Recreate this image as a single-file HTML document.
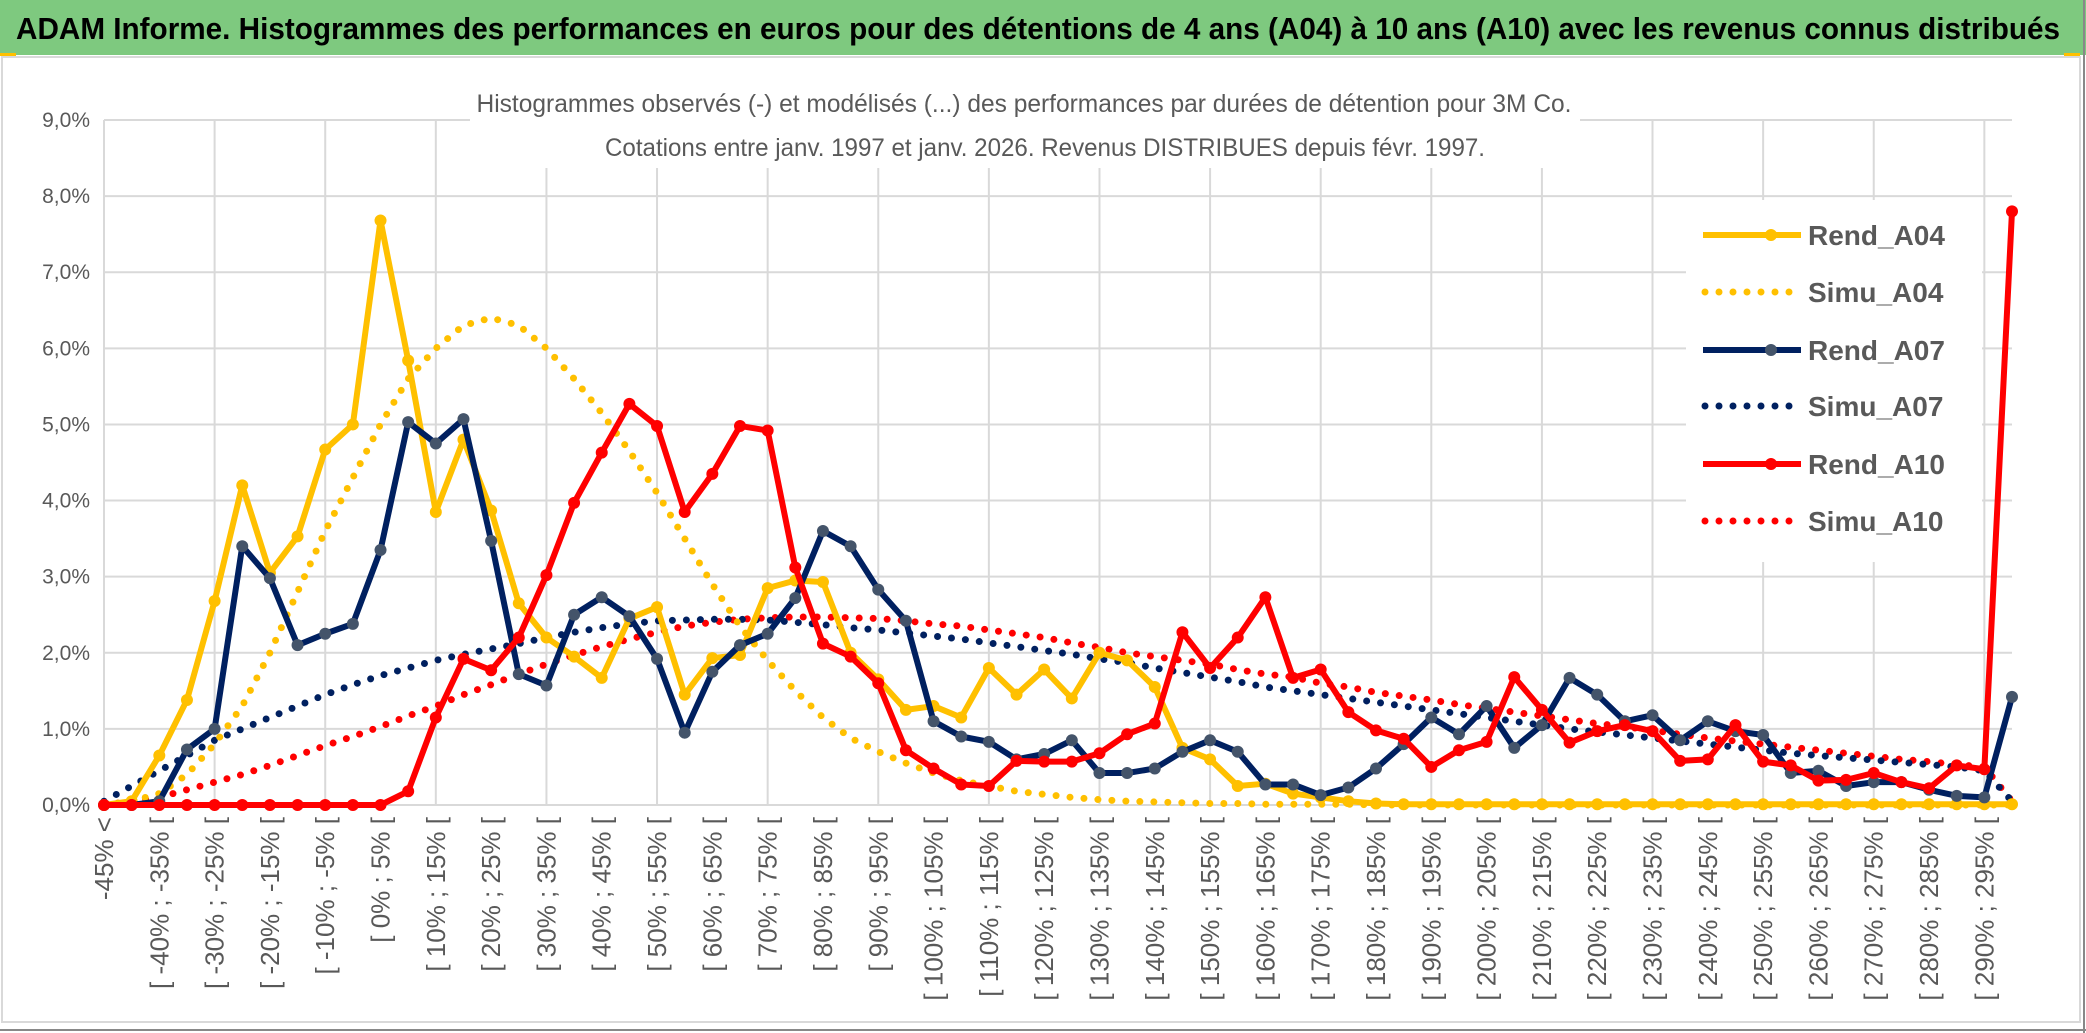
<!DOCTYPE html>
<html><head><meta charset="utf-8"><style>
html,body{margin:0;padding:0;background:#fff;}
svg{display:block;font-family:"Liberation Sans",sans-serif;}
</style></head><body>
<svg id="chart" width="2086" height="1033" viewBox="0 0 2086 1033" xmlns="http://www.w3.org/2000/svg">
<rect x="0" y="0" width="2086" height="1033" fill="#fff"/>
<rect x="0" y="0" width="2086" height="55" fill="#7ec97f"/>
<text x="16" y="39" font-size="31" font-weight="bold" fill="#000" textLength="2044" lengthAdjust="spacingAndGlyphs">ADAM Informe. Histogrammes des performances en euros pour des détentions de 4 ans (A04) à 10 ans (A10) avec les revenus connus distribués</text>
<rect x="0" y="53" width="16" height="3" fill="#ffc000"/>
<rect x="2064" y="53" width="16" height="3" fill="#ffc000"/>
<rect x="2" y="57" width="2078" height="965" fill="none" stroke="#d9d9d9" stroke-width="2"/>
<line x1="0" y1="1030" x2="2086" y2="1030" stroke="#888" stroke-width="2"/>
<line x1="2084" y1="0" x2="2084" y2="1033" stroke="#888" stroke-width="2"/>
<g id="grid"></g>
<g id="yaxis"></g>
<g id="xaxis"></g>
<rect x="470" y="78" width="1110" height="90" fill="#fff"/>
<text x="1024" y="112" font-size="25" fill="#595959" text-anchor="middle" textLength="1095" lengthAdjust="spacingAndGlyphs">Histogrammes observés (-) et modélisés (...) des performances par durées de détention pour 3M Co.</text>
<text x="1045" y="156" font-size="25" fill="#595959" text-anchor="middle" textLength="880" lengthAdjust="spacingAndGlyphs">Cotations entre janv. 1997 et janv. 2026. Revenus DISTRIBUES depuis févr. 1997.</text>
<g id="series"></g>
<g id="legend"></g>
</svg>
<script>
const categories = (function(){ const c=["-45% <"]; for(let v=-45; v<300; v+=5){ c.push("[ "+v+"% ; "+(v+5)+"% ["); } return c; })();
const yTicks = [0,1,2,3,4,5,6,7,8,9];
const yTickLabels = ["0,0%","1,0%","2,0%","3,0%","4,0%","5,0%","6,0%","7,0%","8,0%","9,0%"];
const rendA04 = [0,0.05,0.65,1.38,2.68,4.2,3.05,3.53,4.67,5.0,7.68,5.84,3.85,4.8,3.87,2.65,2.2,1.95,1.67,2.45,2.6,1.45,1.93,1.97,2.85,2.95,2.93,2.0,1.65,1.25,1.3,1.15,1.8,1.45,1.78,1.4,2.0,1.9,1.55,0.75,0.6,0.25,0.28,0.15,0.1,0.05,0.02,0.01,0.01,0.01,0.01,0.01,0.01,0.01,0.01,0.01,0.01,0.01,0.01,0.01,0.01,0.01,0.01,0.01,0.01,0.01,0.01,0.01,0.01,0.01];
const simuA04 = [0,0.05,0.15,0.4,0.8,1.3,2.0,2.8,3.6,4.3,5.0,5.6,6.0,6.3,6.4,6.3,6.0,5.6,5.15,4.65,4.1,3.5,2.9,2.35,1.9,1.5,1.15,0.88,0.7,0.55,0.42,0.32,0.25,0.18,0.14,0.1,0.07,0.05,0.04,0.03,0.02,0.02,0.01,0.01,0.01,0.01,0,0,0,0,0,0,0,0,0,0,0,0,0,0,0,0,0,0,0,0,0,0,0,0];
const rendA07 = [0,0,0.05,0.73,1.0,3.4,2.98,2.1,2.25,2.38,3.35,5.03,4.75,5.07,3.47,1.72,1.57,2.5,2.73,2.48,1.92,0.95,1.75,2.1,2.25,2.72,3.6,3.4,2.83,2.42,1.1,0.9,0.83,0.6,0.67,0.85,0.42,0.42,0.48,0.7,0.85,0.7,0.27,0.27,0.13,0.23,0.48,0.8,1.15,0.93,1.3,0.75,1.05,1.67,1.45,1.1,1.18,0.85,1.1,0.97,0.92,0.42,0.45,0.25,0.3,0.3,0.2,0.12,0.1,1.42];
const simuA07 = [0.05,0.25,0.45,0.65,0.85,1.0,1.15,1.3,1.45,1.58,1.7,1.8,1.9,1.98,2.05,2.12,2.2,2.27,2.33,2.38,2.42,2.43,2.44,2.44,2.43,2.4,2.37,2.33,2.3,2.26,2.22,2.18,2.13,2.08,2.03,1.98,1.92,1.87,1.8,1.74,1.68,1.62,1.55,1.5,1.45,1.4,1.35,1.3,1.25,1.2,1.15,1.1,1.05,1.0,0.96,0.92,0.88,0.84,0.8,0.76,0.72,0.68,0.65,0.62,0.59,0.56,0.53,0.5,0.45,0.05];
const rendA10 = [0,0,0,0,0,0,0,0,0,0,0,0.18,1.15,1.92,1.77,2.2,3.02,3.97,4.63,5.27,4.98,3.85,4.35,4.98,4.92,3.12,2.12,1.95,1.6,0.72,0.48,0.27,0.25,0.58,0.57,0.57,0.68,0.93,1.07,2.27,1.8,2.2,2.73,1.67,1.78,1.22,0.98,0.87,0.5,0.72,0.83,1.68,1.25,0.82,0.97,1.05,0.97,0.58,0.6,1.05,0.57,0.52,0.32,0.33,0.42,0.3,0.22,0.52,0.47,7.8];
const simuA10 = [0,0.05,0.1,0.2,0.3,0.4,0.52,0.65,0.78,0.9,1.03,1.17,1.3,1.45,1.58,1.72,1.85,1.97,2.08,2.18,2.27,2.35,2.4,2.44,2.46,2.47,2.47,2.46,2.45,2.42,2.38,2.35,2.3,2.25,2.2,2.13,2.07,2.0,1.95,1.9,1.85,1.78,1.72,1.68,1.6,1.55,1.48,1.43,1.38,1.32,1.27,1.22,1.17,1.12,1.07,1.03,0.98,0.93,0.88,0.84,0.8,0.76,0.72,0.68,0.64,0.6,0.57,0.53,0.5,0.05];
const seriesNames = ["Rend_A04","Simu_A04","Rend_A07","Simu_A07","Rend_A10","Simu_A10"];

const NS="http://www.w3.org/2000/svg";
const X0=104, X1=2012, Y0=805, Y9=120;
function xs(i){ return X0 + i*(X1-X0)/(categories.length-1); }
function ys(v){ return Y0 - v*(Y0-Y9)/9; }
function mk(tag, attrs, parent){ const e=document.createElementNS(NS,tag); for(const k in attrs) e.setAttribute(k, attrs[k]); parent.appendChild(e); return e; }

const grid=document.getElementById('grid');
yTicks.forEach(function(t){
  const l=mk('line',{x1:X0,x2:X1,y1:ys(t),y2:ys(t),stroke:'#d9d9d9','stroke-width':2},grid);
  
  
});
for(let i=0;i<categories.length;i+=4){
  const l=mk('line',{x1:xs(i),x2:xs(i),y1:Y9,y2:Y0,stroke:'#d9d9d9','stroke-width':2},grid);
  
  
}
const yax=document.getElementById('yaxis');
yTicks.forEach(function(t,k){
  const tx=mk('text',{x:90,y:ys(t)+7,'font-size':21,fill:'#595959','text-anchor':'end'},yax);
  tx.textContent=yTickLabels[k];
  
  
});
const xax=document.getElementById('xaxis');
for(let i=0;i<categories.length;i+=2){
  const x=xs(i)+9, y=817;
  const tx=mk('text',{x:x,y:y,'font-size':26,fill:'#595959','text-anchor':'end',transform:'rotate(-90 '+x+' '+y+')'},xax);
  tx.textContent=categories[i];
  
  
}

const sg=document.getElementById('series');
function drawDotted(data,color,name){
  const pts=data.map(function(v,i){return xs(i)+','+ys(v);}).join(' ');
  const p=mk('polyline',{points:pts,fill:'none',stroke:color,'stroke-width':7,'stroke-linecap':'round','stroke-dasharray':'0 14'},sg);
  
  
}
function drawSolid(data,color,markerColor,name){
  const pts=data.map(function(v,i){return xs(i)+','+ys(v);}).join(' ');
  const p=mk('polyline',{points:pts,fill:'none',stroke:color,'stroke-width':6,'stroke-linejoin':'round'},sg);
  
  
  data.forEach(function(v,i){
    const c=mk('circle',{cx:xs(i),cy:ys(v),r:6,fill:markerColor},sg);
    
    
  });
}
drawDotted(simuA10,'#ff0000','simu-a10-line');
drawDotted(simuA07,'#002060','simu-a07-line');
drawDotted(simuA04,'#ffc000','simu-a04-line');
drawSolid(rendA04,'#ffc000','#ffc000','rend-a04');
drawSolid(rendA07,'#002060','#44546a','rend-a07');
drawSolid(rendA10,'#ff0000','#ff0000','rend-a10');

const lg=document.getElementById('legend');
const lbg=mk('rect',{x:1686,y:200,width:296,height:362,fill:'#fff'},lg);


const lColors=['#ffc000','#ffc000','#002060','#002060','#ff0000','#ff0000'];
const lMark=['#ffc000',null,'#44546a',null,'#ff0000',null];
const lY=[235,292,350,406,464,521];
seriesNames.forEach(function(n,k){
  const y=lY[k];
  const g=mk('g',{},lg);
  
  
  if(lMark[k]){
    mk('line',{x1:1703,x2:1801,y1:y,y2:y,stroke:lColors[k],'stroke-width':6},g);
    mk('circle',{cx:1771,cy:y,r:6,fill:lMark[k]},g);
  } else {
    mk('line',{x1:1705,x2:1800,y1:y,y2:y,stroke:lColors[k],'stroke-width':7,'stroke-linecap':'round','stroke-dasharray':'0 14'},g);
  }
  const t=mk('text',{x:1808,y:y+10,'font-size':28,'font-weight':'bold',fill:'#595959'},g);
  t.textContent=n;
});
</script>
</body></html>
